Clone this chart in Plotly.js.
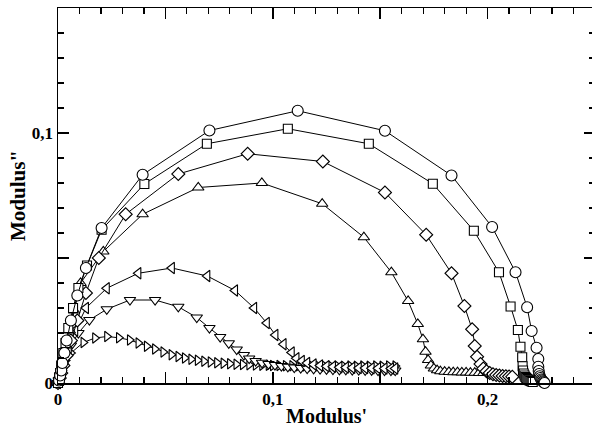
<!DOCTYPE html>
<html>
<head>
<meta charset="utf-8">
<script src="https://cdn.plot.ly/plotly-3.0.1.min.js"></script>
<style>
html,body{margin:0;padding:0;overflow:hidden;background:#fff;}
#chart{width:597px;height:429px;}
</style>
</head>
<body>
<div id="chart"></div>
<script>
// Circles
const circX = [0, 0.0005, 0.001, 0.0015, 0.002, 0.003, 0.004, 0.006, 0.009, 0.013, 0.0203, 0.0394, 0.0705, 0.1116, 0.1522, 0.1832, 0.2021, 0.213, 0.2184, 0.2205, 0.2228, 0.2236, 0.2236, 0.2238, 0.2240, 0.2243, 0.2246, 0.2250, 0.2254, 0.2258, 0.2262, 0.2265, 0.2262, 0.2258];
const circY = [-0.0005, 0.001, 0.003, 0.005, 0.008, 0.012, 0.017, 0.025, 0.035, 0.046, 0.062, 0.0833, 0.101, 0.1089, 0.1009, 0.083, 0.0624, 0.0443, 0.0303, 0.0208, 0.0141, 0.0096, 0.0065, 0.0048, 0.0036, 0.0027, 0.002, 0.0014, 0.001, 0.0006, 0.0003, 0.0, -0.0005, -0.001];
// Squares
const sqX = [0, 0.0005, 0.001, 0.0015, 0.0025, 0.0035, 0.0048, 0.007, 0.0095, 0.0135, 0.0203, 0.0402, 0.0693, 0.107, 0.1447, 0.1745, 0.1936, 0.2053, 0.2107, 0.2141, 0.2153, 0.2161, 0.2163, 0.2165, 0.2168, 0.2172, 0.2176, 0.2180, 0.2185, 0.2190, 0.2195, 0.2200, 0.2205, 0.2210];
const sqY = [0, 0.002, 0.004, 0.007, 0.012, 0.016, 0.022, 0.030, 0.038, 0.047, 0.0613, 0.0796, 0.0957, 0.1017, 0.0957, 0.0797, 0.0609, 0.0443, 0.0306, 0.0212, 0.0145, 0.0103, 0.0067, 0.005, 0.0038, 0.003, 0.0024, 0.002, 0.0016, 0.0013, 0.001, 0.0008, 0.0006, 0.0004];
// Diamonds
const diaX = [0, 0.0008, 0.0015, 0.0025, 0.004, 0.006, 0.009, 0.013, 0.019, 0.0315, 0.056, 0.0883, 0.1233, 0.1522, 0.1714, 0.1832, 0.1892, 0.1928, 0.194, 0.1951, 0.1967, 0.198, 0.1995, 0.201, 0.2025, 0.204, 0.2055, 0.207, 0.2085, 0.210, 0.2115];
const diaY = [0, 0.002, 0.004, 0.007, 0.011, 0.017, 0.025, 0.036, 0.050, 0.0675, 0.0836, 0.0917, 0.0886, 0.0762, 0.0593, 0.0439, 0.0308, 0.0215, 0.0148, 0.0105, 0.0076, 0.0058, 0.0047, 0.004, 0.0035, 0.0032, 0.003, 0.0028, 0.0027, 0.0026, 0.0025];
// Up triangles
const upX = [0, 0.0008, 0.0015, 0.0025, 0.004, 0.0055, 0.0075, 0.0105, 0.0211, 0.0394, 0.0653, 0.0949, 0.123, 0.1424, 0.1552, 0.163, 0.1675, 0.1699, 0.1711, 0.1723, 0.1736, 0.1750, 0.1765, 0.178, 0.180, 0.182, 0.184, 0.186, 0.188, 0.190, 0.192, 0.194, 0.196, 0.198, 0.200];
const upY = [0, 0.003, 0.006, 0.010, 0.015, 0.021, 0.029, 0.040, 0.0526, 0.0675, 0.0782, 0.080, 0.0717, 0.0583, 0.0443, 0.0328, 0.0236, 0.0175, 0.0125, 0.0092, 0.007, 0.0058, 0.0051, 0.0047, 0.0045, 0.0044, 0.0043, 0.0043, 0.0042, 0.0042, 0.0041, 0.0041, 0.004, 0.004, 0.004];
// Left triangles
const leftX = [0, 0.001, 0.002, 0.0035, 0.005, 0.008, 0.013, 0.0227, 0.0374, 0.053, 0.0695, 0.0824, 0.0913, 0.0972, 0.1012, 0.105, 0.1088, 0.111, 0.1135, 0.116, 0.119, 0.122, 0.125, 0.128, 0.131, 0.134, 0.137, 0.140, 0.143, 0.146, 0.149, 0.152, 0.155, 0.157];
const leftY = [0, 0.003, 0.006, 0.010, 0.014, 0.021, 0.030, 0.0379, 0.0439, 0.046, 0.0428, 0.037, 0.030, 0.024, 0.0192, 0.0155, 0.0122, 0.0099, 0.0088, 0.008, 0.0074, 0.007, 0.0067, 0.0065, 0.0063, 0.0062, 0.0061, 0.006, 0.006, 0.0059, 0.0059, 0.0058, 0.0058, 0.0058];
// Down triangles
const downX = [0, 0.001, 0.002, 0.0035, 0.006, 0.0095, 0.0146, 0.0227, 0.0335, 0.0452, 0.056, 0.0646, 0.0705, 0.0755, 0.0795, 0.0832, 0.0865, 0.089, 0.092, 0.095, 0.098, 0.101, 0.104, 0.107, 0.110, 0.113, 0.116, 0.119, 0.122, 0.125, 0.128, 0.131, 0.134, 0.137, 0.140, 0.143, 0.146, 0.149, 0.152, 0.155, 0.157];
const downY = [0, 0.003, 0.006, 0.010, 0.015, 0.020, 0.0252, 0.0295, 0.0332, 0.0332, 0.0305, 0.0262, 0.022, 0.0184, 0.0159, 0.0134, 0.0112, 0.0098, 0.0088, 0.0081, 0.0076, 0.0072, 0.0068, 0.0065, 0.0062, 0.006, 0.0058, 0.0057, 0.0056, 0.0055, 0.0054, 0.0053, 0.0053, 0.0052, 0.0052, 0.0051, 0.0051, 0.005, 0.005, 0.005, 0.005];
// Right triangles
const rightX = [0, 0.001, 0.002, 0.0035, 0.006, 0.0118, 0.0172, 0.0228, 0.0283, 0.0334, 0.0374, 0.0413, 0.0451, 0.049, 0.0528, 0.056, 0.059, 0.062, 0.065, 0.068, 0.071, 0.074, 0.077, 0.080, 0.083, 0.086, 0.089, 0.092, 0.095, 0.098, 0.100, 0.103, 0.106, 0.109, 0.112, 0.115, 0.118, 0.121, 0.124, 0.127, 0.130, 0.133, 0.136, 0.139, 0.142, 0.145, 0.148, 0.151, 0.154, 0.157];
const rightY = [0, 0.003, 0.006, 0.009, 0.012, 0.0162, 0.018, 0.0186, 0.0181, 0.0172, 0.016, 0.0147, 0.0136, 0.0124, 0.0113, 0.0106, 0.0100, 0.0095, 0.0091, 0.0087, 0.0084, 0.0081, 0.0079, 0.0077, 0.0075, 0.0074, 0.0073, 0.0072, 0.0071, 0.0071, 0.0070, 0.0070, 0.0069, 0.0069, 0.0069, 0.0068, 0.0068, 0.0068, 0.0068, 0.0067, 0.0068, 0.0067, 0.0068, 0.0067, 0.0068, 0.0067, 0.0068, 0.0067, 0.0068, 0.0068];

const xTickVals = [0, 0.05, 0.1, 0.15, 0.2, 0.25];
const xTickText = ['0', '', '0,1', '', '0,2', ''];
const yTickVals = [0, 0.05, 0.1, 0.15];
const yTickText = ['0', '', '0,1', ''];
const xTitle = "Modulus'";
const yTitle = 'Modulus"';

function series(x, y, symbol, size) {
  return {
    x: x, y: y, type: 'scatter', mode: 'lines+markers',
    line: {color: '#000', width: 1},
    marker: {symbol: symbol, size: size, color: '#fff', line: {color: '#000', width: 1.1}},
    showlegend: false, cliponaxis: false
  };
}

const data = [
  series(rightX, rightY, 'triangle-right', 9),
  series(downX, downY, 'triangle-down', 10),
  series(leftX, leftY, 'triangle-left', 10),
  series(upX, upY, 'triangle-up', 10),
  series(diaX, diaY, 'diamond', 10),
  series(sqX, sqY, 'square', 9),
  series(circX, circY, 'circle', 11)
];

const font = {family: 'Liberation Serif, Times New Roman, serif', color: '#000'};
const titleFont = Object.assign({size: 21, weight: 'bold'}, font);

const axisCommon = {
  showgrid: false, zeroline: false,
  showline: true, linecolor: '#000', linewidth: 1.5,
  mirror: 'allticks', ticks: 'inside', ticklen: 11, tickwidth: 1.5, tickcolor: '#000',
  tickmode: 'array',
  tickfont: Object.assign({size: 17, weight: 'bold'}, font),
  minor: {tickmode: 'linear', tick0: 0, dtick: 0.01, ticks: 'inside', ticklen: 6, tickwidth: 1.2, tickcolor: '#000', showgrid: false}
};

const layout = {
  width: 597, height: 429,
  margin: {l: 58, r: 2, t: 8, b: 46},
  paper_bgcolor: '#fff', plot_bgcolor: '#fff',
  separators: ',.',
  font: font,
  xaxis: Object.assign({}, axisCommon, {
    range: [0, 0.25], tickvals: xTickVals, ticktext: xTickText
  }),
  yaxis: Object.assign({}, axisCommon, {
    range: [0, 0.15], tickvals: yTickVals, ticktext: yTickText,
    title: {text: yTitle, font: titleFont, standoff: 0}
  }),
  annotations: [{
    text: xTitle, font: Object.assign({}, titleFont, {size: 20}), showarrow: false,
    xref: 'paper', x: 0.5, xanchor: 'center',
    yref: 'paper', y: 0, yanchor: 'top', yshift: -21,
    borderpad: 0
  }]
};

Plotly.newPlot('chart', data, layout, {staticPlot: true, displayModeBar: false});
</script>
</body>
</html>
